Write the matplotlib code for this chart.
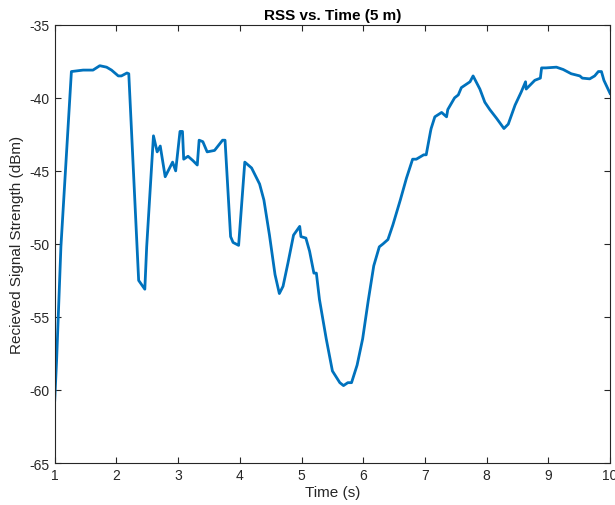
import matplotlib.pyplot as plt
import numpy as np

plt.rcParams["font.family"] = ["Liberation Sans", "DejaVu Sans"]
plt.rcParams["axes.unicode_minus"] = False

# values
time = [1.00, 1.03, 1.10, 1.27, 1.46, 1.62, 1.73, 1.84, 1.92, 2.03, 2.08, 2.17, 2.20,
        2.36, 2.46, 2.49, 2.60, 2.66, 2.71, 2.79, 2.91, 2.96, 3.03, 3.07, 3.09, 3.16,
        3.24, 3.31, 3.34, 3.40, 3.47, 3.59, 3.72, 3.76, 3.85, 3.89, 3.98, 4.08, 4.19,
        4.32, 4.39, 4.48, 4.57, 4.64, 4.70, 4.78, 4.87, 4.97, 4.99, 5.07, 5.13, 5.20,
        5.24, 5.29, 5.40, 5.50, 5.62, 5.68, 5.75, 5.81, 5.90, 5.99, 6.08, 6.17, 6.26,
        6.32, 6.40, 6.48, 6.60, 6.70, 6.80, 6.86, 6.98, 7.02, 7.09, 7.10, 7.16, 7.27,
        7.35, 7.37, 7.48, 7.54, 7.59, 7.73, 7.78, 7.89, 7.97, 8.05, 8.16, 8.28, 8.35, 8.46,
        8.56, 8.63, 8.64, 8.78, 8.87, 8.89, 8.96, 9.13, 9.24, 9.37, 9.51, 9.55, 9.67,
        9.75, 9.81, 9.86, 9.90, 10.00]
rss = [-60.7, -58.0, -50.2, -38.2, -38.1, -38.1, -37.8, -37.9, -38.1, -38.5, -38.5, -38.3, -38.35,
       -52.5, -53.1, -50.2, -42.6, -43.7, -43.3, -45.4, -44.4, -45.0, -42.3, -42.3, -44.2, -44.0,
       -44.3, -44.6, -42.9, -43.0, -43.7, -43.6, -42.9, -42.9, -49.5, -49.9, -50.1, -44.4, -44.8,
       -45.9, -47.0, -49.4, -52.1, -53.4, -52.9, -51.3, -49.4, -48.8, -49.5, -49.6, -50.5, -52.0,
       -52.0, -53.8, -56.5, -58.7, -59.5, -59.7, -59.5, -59.5, -58.3, -56.5, -53.9, -51.5, -50.2,
       -50.0, -49.7, -48.7, -47.0, -45.5, -44.2, -44.2, -43.9, -43.9, -42.3, -42.1, -41.3, -41.0,
       -41.3, -40.8, -40.0, -39.8, -39.3, -38.9, -38.5, -39.4, -40.3, -40.8, -41.4, -42.1, -41.8, -40.5,
       -39.6, -38.9, -39.4, -38.8, -38.65, -37.95, -37.95, -37.9, -38.06, -38.35, -38.5, -38.65, -38.7,
       -38.5, -38.2, -38.2, -38.8, -39.7]

fig = plt.figure(figsize=(6.15, 5.06), dpi=100)
ax = fig.add_axes([0.089, 0.083, 0.903, 0.866])
ax.plot(time, rss, color="#0072BD", linewidth=2)

ax.set_xlim(1, 10)
ax.set_ylim(-65, -35)
ax.set_xticks(np.arange(1, 11))
ax.set_yticks(np.arange(-65, -34, 5))
ax.tick_params(direction="in", top=True, right=True, labelsize=10, colors="#262626", length=4)
for s in ax.spines.values():
    s.set_color("#262626")
    s.set_linewidth(0.8)

ax.set_xlabel("Time (s)", fontsize=11, color="#262626", labelpad=2)
ax.set_ylabel("Recieved Signal Strength (dBm)", fontsize=11, color="#262626", labelpad=4)
ax.set_title("RSS vs. Time (5 m)", fontsize=11, fontweight="bold", pad=4)

fig.savefig("out.png", dpi=100)
